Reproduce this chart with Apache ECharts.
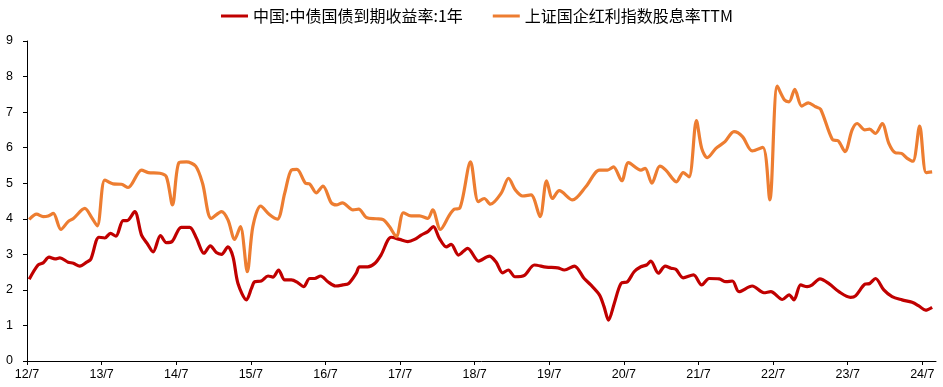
<!DOCTYPE html>
<html>
<head>
<meta charset="utf-8">
<script src="https://cdn.jsdelivr.net/npm/echarts@6/dist/echarts.min.js"></script>
<style>
html,body{margin:0;padding:0;background:#fff;}
#c{width:943px;height:387px;}
</style>
</head>
<body>
<div id="c"></div>
<script>
const seriesNames = ['中国:中债国债到期收益率:1年', '上证国企红利指数股息率TTM'];
const tickLabels = ['12/7','13/7','14/7','15/7','16/7','17/7','18/7','19/7','20/7','21/7','22/7','23/7','24/7'];

const redDates = ['2012-07-12','2012-08-25','2012-09-19','2012-10-18','2012-11-16','2012-12-10','2013-01-20','2013-02-14','2013-03-16','2013-04-19','2013-05-09','2013-06-18','2013-07-17','2013-08-14','2013-09-10','2013-10-15','2013-11-04','2013-12-11','2014-01-14','2014-02-10','2014-03-10','2014-04-15','2014-05-14','2014-06-11','2014-07-26','2014-09-06','2014-10-09','2014-11-15','2014-12-16','2015-01-15','2015-02-09','2015-03-11','2015-04-05','2015-04-29','2015-06-10','2015-07-04','2015-07-20','2015-08-22','2015-09-24','2015-10-18','2015-11-15','2015-12-15','2016-01-17','2016-02-18','2016-03-16','2016-04-15','2016-05-09','2016-06-08','2016-07-13','2016-08-20','2016-09-25','2016-10-24','2016-11-30','2016-12-16','2017-01-26','2017-02-28','2017-03-30','2017-05-19','2017-06-29','2017-08-09','2017-09-11','2017-10-13','2017-11-15','2017-12-12','2018-01-11','2018-02-13','2018-03-08','2018-04-13','2018-05-28','2018-07-21','2018-09-12','2018-10-14','2018-11-16','2018-12-14','2019-01-16','2019-03-01','2019-04-19','2019-06-16','2019-08-12','2019-09-14','2019-11-02','2019-12-20','2020-01-22','2020-03-03','2020-03-26','2020-04-17','2020-05-15','2020-06-17','2020-07-19','2020-08-21','2020-09-23','2020-10-21','2020-11-11','2020-12-18','2021-01-21','2021-02-17','2021-03-12','2021-04-17','2021-06-07','2021-07-17','2021-08-23','2021-10-11','2021-11-13','2021-12-15','2022-01-17','2022-03-21','2022-05-17','2022-06-20','2022-08-16','2022-09-18','2022-10-12','2022-11-14','2022-12-16','2023-01-10','2023-02-16','2023-04-02','2023-05-19','2023-07-15','2023-08-09','2023-09-24','2023-10-18','2023-11-15','2023-12-26','2024-02-05','2024-03-24','2024-05-12','2024-06-14','2024-07-17','2024-08-19'];
const redValues = [2.30,2.70,2.76,2.92,2.87,2.90,2.78,2.75,2.67,2.78,2.86,3.48,3.46,3.59,3.51,3.95,3.95,4.20,3.54,3.31,3.07,3.53,3.33,3.36,3.76,3.76,3.45,3.03,3.24,3.05,3.00,3.21,2.93,2.18,1.72,2.04,2.23,2.25,2.39,2.36,2.56,2.28,2.28,2.20,2.09,2.32,2.32,2.39,2.23,2.11,2.14,2.18,2.47,2.65,2.65,2.75,2.98,3.48,3.42,3.36,3.42,3.54,3.64,3.78,3.45,3.21,3.28,2.98,3.17,2.81,2.95,2.79,2.48,2.56,2.37,2.41,2.70,2.64,2.62,2.56,2.67,2.32,2.14,1.86,1.53,1.15,1.62,2.18,2.23,2.51,2.65,2.70,2.81,2.47,2.67,2.61,2.58,2.34,2.42,2.14,2.32,2.31,2.23,2.25,1.95,2.11,1.92,1.95,1.73,1.86,1.72,2.14,2.09,2.14,2.31,2.17,1.95,1.79,1.83,2.16,2.18,2.32,2.00,1.81,1.72,1.65,1.55,1.43,1.51];

const orangeDates = ['2012-07-12','2012-08-18','2012-09-19','2012-10-14','2012-11-08','2012-12-15','2013-01-20','2013-02-14','2013-04-10','2013-05-13','2013-06-10','2013-07-17','2013-08-27','2013-10-07','2013-11-09','2014-01-14','2014-02-15','2014-04-12','2014-05-14','2014-06-13','2014-07-15','2014-08-21','2014-10-05','2014-11-08','2014-12-21','2015-02-09','2015-03-11','2015-04-13','2015-05-11','2015-06-14','2015-07-11','2015-08-19','2015-10-02','2015-11-09','2015-12-15','2016-01-17','2016-02-13','2016-03-26','2016-04-15','2016-05-17','2016-06-19','2016-07-30','2016-08-24','2016-09-23','2016-11-14','2016-12-12','2017-01-18','2017-03-06','2017-04-08','2017-05-10','2017-06-13','2017-07-18','2017-08-25','2017-10-05','2017-11-15','2017-12-09','2018-01-16','2018-02-28','2018-03-24','2018-04-18','2018-06-11','2018-07-19','2018-08-18','2018-09-17','2018-11-09','2018-12-15','2019-01-18','2019-02-21','2019-04-03','2019-05-17','2019-06-18','2019-07-17','2019-08-20','2019-10-24','2019-12-28','2020-03-03','2020-04-12','2020-05-11','2020-06-21','2020-07-24','2020-09-23','2020-10-14','2020-11-16','2020-12-25','2021-01-24','2021-03-15','2021-04-17','2021-05-16','2021-06-21','2021-07-17','2021-08-14','2021-09-25','2021-11-09','2021-12-23','2022-02-03','2022-03-21','2022-05-12','2022-06-15','2022-07-22','2022-08-27','2022-09-18','2022-10-16','2022-11-19','2022-12-21','2023-01-27','2023-02-19','2023-04-17','2023-05-16','2023-06-18','2023-07-23','2023-08-17','2023-09-24','2023-10-17','2023-11-15','2023-12-18','2024-01-20','2024-02-19','2024-03-21','2024-04-18','2024-05-16','2024-06-18','2024-07-20','2024-08-19'];
const orangeValues = [3.98,4.13,4.06,4.08,4.15,3.70,3.92,4.01,4.29,4.04,3.80,5.09,4.98,4.97,4.88,5.37,5.30,5.28,5.18,4.39,5.58,5.60,5.48,5.00,4.01,4.20,3.97,3.42,3.78,2.51,3.78,4.36,4.11,3.99,4.72,5.37,5.39,5.00,4.98,4.73,4.92,4.45,4.39,4.45,4.25,4.27,4.04,4.00,3.98,3.78,3.50,4.17,4.08,4.08,4.01,4.25,3.70,4.11,4.27,4.29,5.60,4.48,4.57,4.41,4.72,5.14,4.81,4.64,4.67,4.06,5.07,4.57,4.79,4.53,4.90,5.37,5.37,5.46,5.07,5.58,5.37,5.42,5.00,5.48,5.37,5.04,5.30,5.18,6.76,5.98,5.72,5.98,6.17,6.45,6.31,5.91,6.01,4.53,7.73,7.34,7.29,7.64,7.17,7.26,7.15,7.08,6.23,6.19,5.89,6.50,6.68,6.50,6.52,6.40,6.68,6.12,5.86,5.84,5.70,5.62,6.61,5.30,5.32];

function monthIndex(s) {
  const p = s.split('-').map(Number);
  const dim = new Date(Date.UTC(p[0], p[1], 0)).getUTCDate();
  return (p[0] - 2012) * 12 + (p[1] - 7) + (p[2] - 1) / dim;
}
const tickValues = tickLabels.map((_, i) => i * 12);
const redData = redDates.map((d, i) => [monthIndex(d), redValues[i]]);
const orangeData = orangeDates.map((d, i) => [monthIndex(d), orangeValues[i]]);

const chart = echarts.init(document.getElementById('c'), null, {renderer: 'canvas'});
const font = '"Liberation Sans", Arial, sans-serif';
chart.setOption({
  animation: false,
  backgroundColor: '#fff',
  legend: {
    top: 3,
    left: 216,
    itemGap: 30,
    itemWidth: 27,
    itemHeight: 3,
    icon: 'rect',
    textStyle: {fontSize: 16, color: '#000', fontFamily: '"Noto Sans CJK SC", sans-serif'},
    data: seriesNames
  },
  grid: {left: 27, right: 7, top: 41, bottom: 26, containLabel: false},
  xAxis: {
    type: 'value',
    min: 0,
    max: 146.2,
    interval: 12,
    splitLine: {show: false},
    axisLine: {lineStyle: {color: '#000', width: 1}},
    axisTick: {show: true, length: 4, lineStyle: {color: '#000'}, customValues: tickValues},
    axisLabel: {
      color: '#000', fontSize: 12.5, fontFamily: font, margin: 7,
      customValues: tickValues,
      formatter: v => tickLabels[Math.round(v / 12)] || ''
    }
  },
  yAxis: {
    type: 'value',
    min: 0,
    max: 9,
    interval: 1,
    splitLine: {show: false},
    axisLine: {show: true, lineStyle: {color: '#000', width: 1}},
    axisTick: {show: true, length: 4, lineStyle: {color: '#000'}},
    axisLabel: {color: '#000', fontSize: 12.5, fontFamily: font, margin: 14}
  },
  series: [
    {
      name: seriesNames[0], type: 'line', data: redData, symbol: 'none', smooth: 0.3,
      lineStyle: {color: '#C00000', width: 3.2}, itemStyle: {color: '#C00000'}
    },
    {
      name: seriesNames[1], type: 'line', data: orangeData, symbol: 'none', smooth: 0.3,
      lineStyle: {color: '#ED7D31', width: 3.2}, itemStyle: {color: '#ED7D31'}
    }
  ]
});
</script>
</body>
</html>
